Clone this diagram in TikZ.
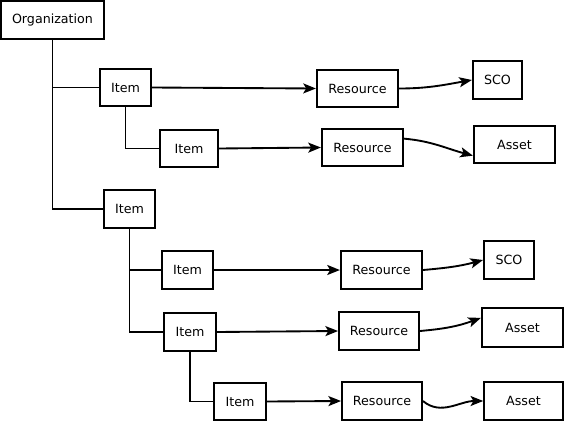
\documentclass[tikz,border=0pt]{standalone}
\usepackage{fontspec}
\setmainfont{DejaVu Sans}
\usetikzlibrary{arrows.meta,positioning}

\begin{document}
\begin{tikzpicture}[x=0.75pt, y=0.75pt, line width=1.4pt,
    box/.style={draw, fill=white, minimum height=28pt, inner sep=0pt, font=\fontsize{9.5}{11}\selectfont},
    link/.style={-{Stealth[length=9.5pt, width=7.5pt, inset=2.2pt]}}]
    \useasboundingbox (0,0) rectangle (565,-422);

    % Tree of items
    \node[box, minimum width=77pt] (org) at (52.5,-20) {Organization};
    \node[box, minimum width=38pt] (item1) at (125.5,-87.5) {Item};
    \node[box, minimum width=43.5pt] (item2) at (189,-148.5) {Item};
    \node[box, minimum width=38pt] (item3) at (129.5,-209) {Item};
    \node[box, minimum width=38pt] (item4) at (187.5,-270) {Item};
    \node[box, minimum width=39pt] (item5) at (190,-332) {Item};
    \node[box, minimum width=39pt] (item6) at (240,-401.5) {Item};

    % Resources
    \node[box, minimum width=61pt] (res1) at (357.5,-88.5) {Resource};
    \node[box, minimum width=61pt] (res2) at (362.5,-147.5) {Resource};
    \node[box, minimum width=61pt] (res3) at (381.5,-270) {Resource};
    \node[box, minimum width=60pt] (res4) at (379,-331) {Resource};
    \node[box, minimum width=60pt] (res5) at (382,-401) {Resource};

    % SCOs and assets
    \node[box, minimum width=37pt] (sco1) at (497.5,-80) {SCO};
    \node[box, minimum width=61pt] (asset1) at (514.5,-144.5) {Asset};
    \node[box, minimum width=37.5pt] (sco2) at (509,-260) {SCO};
    \node[box, minimum width=61pt, minimum height=29pt] (asset2) at (522.5,-327.5) {Asset};
    \node[box, minimum width=59pt] (asset3) at (523.5,-401) {Asset};

    % Tree lines
    \draw (org.south) |- (item1.west);
    \draw (org.south) |- (item3.west);
    \draw (item1.south) |- (item2.west);
    \draw (item3.south) |- (item4.west);
    \draw (item3.south) |- (item5.west);
    \draw (item5.south) |- (item6.west);

    % Item to resource
    \draw[link] (item1.east) -- (res1.west);
    \draw[link] (item2.east) -- (res2.west);
    \draw[link] (item4.east) -- (res3.west);
    \draw[link] (item5.east) -- (res4.west);
    \draw[link] (item6.east) -- (res5.west);

    % Resource to SCO / asset
    \draw[link] (res1.east) to[out=0, in=190] (sco1.west);
    \draw[link] (res2.12) to[out=-5, in=165] (asset1.195);
    \draw[link] (res3.east) to[out=5, in=195] (sco2.west);
    \draw[link] (res4.east) to[out=5, in=200] (asset2.167);
    \draw[link] (res5.east) to[out=-40, in=180] (asset3.west);
\end{tikzpicture}
\end{document}
